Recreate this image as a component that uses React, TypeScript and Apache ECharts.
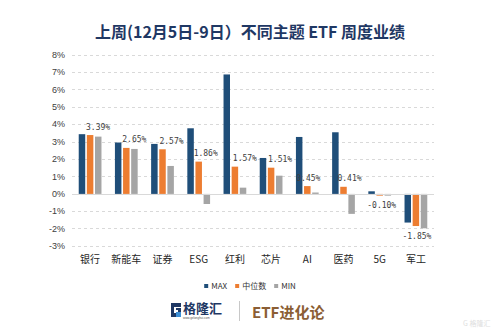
import React, { useEffect, useRef } from "react";
import * as echarts from "echarts";

const categories = ["银行", "新能车", "证券", "ESG", "红利", "芯片", "AI", "医药", "5G", "军工"];
const maxValues = [3.44, 2.96, 2.88, 3.78, 6.88, 2.07, 3.28, 3.55, 0.15, -1.65];
const medianValues = [3.39, 2.65, 2.57, 1.86, 1.57, 1.51, 0.45, 0.41, -0.1, -1.85];
const minValues = [3.3, 2.59, 1.61, -0.58, 0.36, 1.05, 0.08, -1.15, -0.1, -1.98];
const seriesNames = ["MAX", "中位数", "MIN"];
const yTicks = { min: -3, max: 8, interval: 1 };

// label nudges (style only)
const medianLabelDx = [8, 8, 9, 7, 10, 9, 1, 6, 2, 1];

const COLORS = ["#1f4e79", "#ed7d31", "#a5a5a5"];

export default function App() {
  const ref = useRef<HTMLDivElement>(null);
  useEffect(() => {
    if (!ref.current) return;
    const chart = echarts.init(ref.current, null, { renderer: "svg" });
    echarts.graphic.registerShape(
      "glogo",
      echarts.graphic.extendPath(
        "M0 0 H10 V4 H3 V10 H7 V7 H5 V5 H10 V14 H0 Z",
        {}
      )
    );
    const medianData = medianValues.map((v, i) => ({
      value: v,
      label: {
        position: v >= 0 ? "top" : "bottom",
        offset: [medianLabelDx[i], v >= 0 ? 0 : 2],
      },
    }));
    const option: any = {
      animation: false,
      backgroundColor: "#ffffff",
      color: COLORS,
      title: {
        text: "上周(12月5日-9日）不同主题 ETF 周度业绩",
        left: "center",
        top: 18,
        textStyle: {
          fontFamily: "Noto Sans CJK SC",
          fontSize: 16,
          fontWeight: "bold",
          color: "#1f3864",
        },
      },
      legend: {
        data: seriesNames,
        top: 277,
        left: "center",
        itemWidth: 4,
        itemHeight: 4,
        itemGap: 8,
        icon: "rect",
        textStyle: { fontSize: 8, color: "#333", fontFamily: "Noto Sans CJK SC", padding: [0, 0, 0, -2] },
      },
      grid: { left: 72, right: 66, top: 55, bottom: 89, containLabel: false },
      xAxis: {
        type: "category",
        data: categories,
        axisLine: { show: false, onZero: false },
        axisTick: { show: false },
        axisLabel: {
          interval: 0,
          fontSize: 10,
          color: "#262626",
          margin: 7,
          fontFamily: "Noto Sans CJK SC",
        },
      },
      yAxis: {
        type: "value",
        min: yTicks.min,
        max: yTicks.max,
        interval: yTicks.interval,
        axisLine: { show: false },
        axisTick: { show: false },
        axisLabel: {
          formatter: "{value}%",
          fontSize: 9,
          color: "#404040",
          margin: 7,
          fontFamily: "Liberation Sans",
        },
        splitLine: { lineStyle: { type: [3, 3], color: "#d9d9d9", width: 1 } },
      },
      series: [
        {
          name: seriesNames[0],
          type: "bar",
          data: maxValues,
          barWidth: 6.5,
          barGap: "25%",
          markLine: {
            silent: true,
            symbol: "none",
            label: { show: false },
            lineStyle: { type: "solid", color: "#d9d9d9", width: 1 },
            data: [{ yAxis: 0 }],
          },
        },
        {
          name: seriesNames[1],
          type: "bar",
          data: medianData,
          barWidth: 6.5,
          barGap: "25%",
          label: {
            show: true,
            distance: 4,
            formatter: (p: any) => p.value.toFixed(2) + "%",
            fontSize: 8,
            color: "#404040",
            fontFamily: "DejaVu Sans Mono",
          },
        },
        {
          name: seriesNames[2],
          type: "bar",
          data: minValues,
          barWidth: 6.5,
          barGap: "25%",
        },
      ],
      graphic: [
        {
          type: "glogo",
          x: 171,
          y: 303,
          scaleX: 1,
          scaleY: 1,
          style: { fill: "#1f3864" },
        },
        {
          type: "polygon",
          shape: { points: [[176, 312], [181, 312], [181, 317], [176, 317]] },
          style: { fill: "#3d8fd6" },
        },
        {
          type: "text",
          x: 183,
          y: 301,
          style: {
            text: "格隆汇",
            fontSize: 13,
            fontWeight: "bold",
            fill: "#1f3864",
            fontFamily: "Noto Sans CJK SC",
          },
        },
        {
          type: "text",
          x: 183,
          y: 316,
          style: {
            text: "www.gelonghui.com",
            fontSize: 3,
            fill: "#555",
            fontFamily: "Liberation Sans",
          },
        },
        {
          type: "line",
          shape: { x1: 239.5, y1: 301, x2: 239.5, y2: 321 },
          style: { stroke: "#c8c8c8", lineWidth: 1 },
        },
        {
          type: "text",
          x: 252,
          y: 311,
          style: {
            text: "ETF进化论",
            fontSize: 15,
            fontWeight: "bold",
            fill: "#8b5e34",
            fontFamily: "Noto Sans CJK SC",
            verticalAlign: "middle",
          },
        },
        {
          type: "text",
          x: 463,
          y: 319,
          style: {
            text: "G 格隆汇",
            fontSize: 7,
            fill: "#e0e0e0",
            fontFamily: "Noto Sans CJK SC",
          },
        },
      ],
    };
    chart.setOption(option);
    return () => chart.dispose();
  }, []);
  return (
    <div
      ref={ref}
      style={{ position: "fixed", left: 0, top: 0, width: 500, height: 335, background: "#fff" }}
    />
  );
}
